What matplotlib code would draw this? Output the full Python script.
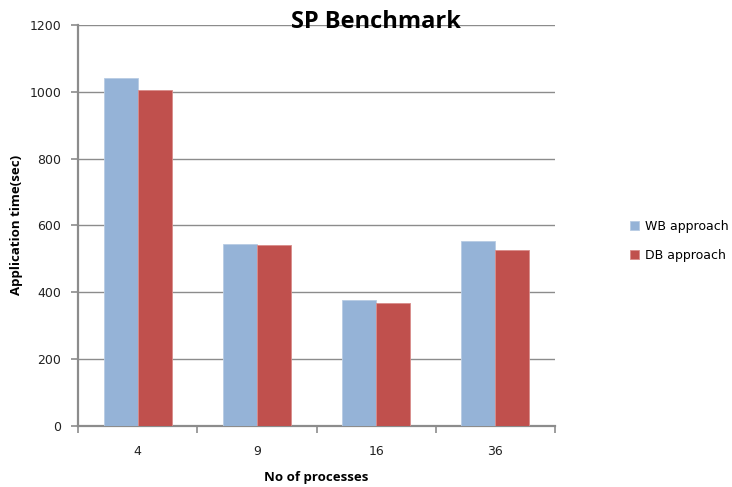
import numpy as np
import matplotlib.pyplot as plt

processes = ['4', '9', '16', '36']
wb_times = [1041, 544, 375, 552]
db_times = [1005, 541, 367, 525]

wb_color = '#95B3D7'
db_color = '#C0504D'
grid_color = '#8C8C8C'

fig = plt.figure(figsize=(7.32, 4.87), dpi=100)
ax = fig.add_axes([0.1066, 0.1259, 0.6516, 0.8228])

x = np.arange(len(processes))
width = 0.285
ax.bar(x - width / 2, wb_times, width, color=wb_color, edgecolor='#B8CCE4',
       linewidth=0.6, label='WB approach', zorder=3)
ax.bar(x + width / 2, db_times, width, color=db_color, edgecolor='#D98C8A',
       linewidth=0.6, label='DB approach', zorder=3)

ax.set_xlim(-0.5, len(processes) - 0.5)
ax.set_ylim(0, 1200)
ax.set_yticks(range(0, 1201, 200))
ax.yaxis.grid(True, color=grid_color, linewidth=1.0, zorder=0)

# category labels sit between the boundary ticks
ax.set_xticks(np.arange(-0.5, len(processes)), minor=False)
ax.set_xticklabels([])
ax.set_xticks(x, minor=True)
ax.set_xticklabels(processes, minor=True)
ax.tick_params(axis='x', which='major', length=5, color=grid_color, width=1.2)
ax.tick_params(axis='x', which='minor', length=0, pad=14, labelsize=9,
               labelcolor='#222222')
ax.tick_params(axis='y', length=5, color=grid_color, width=1.2, labelsize=9,
               labelcolor='#222222', pad=7)

for side in ['top', 'right']:
    ax.spines[side].set_visible(False)
for side in ['left', 'bottom']:
    ax.spines[side].set_color(grid_color)
    ax.spines[side].set_linewidth(1.6)

ax.set_xlabel('No of processes', fontfamily='Open Sans', fontweight='bold',
              fontsize=9.5, labelpad=9)
ax.set_ylabel('Application time(sec)', fontfamily='Open Sans', fontweight='bold',
              fontsize=9.5, labelpad=5)
fig.text(0.514, 0.955, 'SP Benchmark', ha='center', va='center',
         fontfamily='Open Sans', fontweight='bold', fontsize=17)

fig.legend(loc='center left', bbox_to_anchor=(0.845, 0.505), frameon=False,
           fontsize=9, handlelength=0.7, handleheight=0.7, handletextpad=0.5,
           labelspacing=1.3)

fig.savefig('out.png', dpi=100)
